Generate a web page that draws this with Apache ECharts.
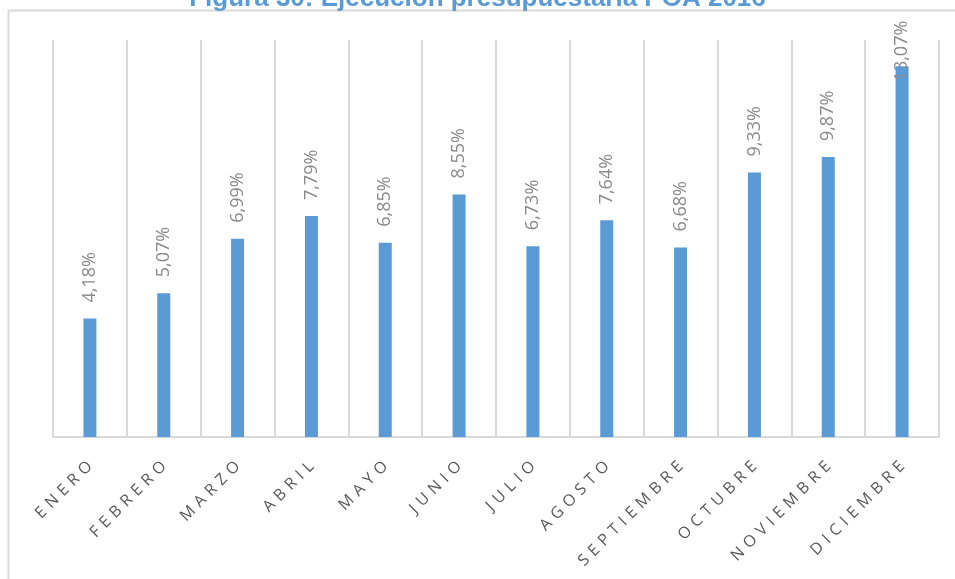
<!DOCTYPE html>
<html>
<head>
<meta charset="utf-8">
<script src="https://cdn.jsdelivr.net/npm/echarts@6/dist/echarts.min.js"></script>
<style>
  html, body { margin: 0; padding: 0; background: #fff; }
  #chart { width: 955px; height: 579px; }
</style>
</head>
<body>
<div id="chart"></div>
<script>
// meses y % de ejecucion
const meses = ['ENERO', 'FEBRERO', 'MARZO', 'ABRIL', 'MAYO', 'JUNIO', 'JULIO', 'AGOSTO', 'SEPTIEMBRE', 'OCTUBRE', 'NOVIEMBRE', 'DICIEMBRE']
const ejecucion = [4.18, 5.07, 6.99, 7.79, 6.85, 8.55, 6.73, 7.64, 6.68, 9.33, 9.87, 13.07]
const titulo = 'Figura 30: Ejecución presupuestaria POA 2016'

const myChart = echarts.init(document.getElementById('chart'))

const option = {
  animation: false,
  title: {
    text: titulo,
    left: 'center',
    top: -19,
    textStyle: {
      color: '#5B9BD5',
      fontFamily: 'Liberation Sans, Arial',
      fontWeight: 'bold',
      fontSize: 26
    }
  },
  graphic: [{
    type: 'rect',
    shape: { x: 8.5, y: 10.5, width: 960, height: 600 },
    style: { fill: 'none', stroke: '#d9d9d9', lineWidth: 2 },
    z: -1
  }],
  grid: {
    left: 53,
    right: 16,
    top: 40,
    bottom: 142
  },
  xAxis: {
    type: 'category',
    data: meses,
    axisLine: { show: true, lineStyle: { color: '#d9d9d9', width: 2 } },
    axisTick: { show: false },
    splitLine: { show: true, lineStyle: { color: '#d9d9d9', width: 2 } },
    axisLabel: {
      interval: 0,
      rotate: 45,
      margin: 27,
      color: '#595959',
      fontFamily: 'Open Sans',
      fontSize: 16,
      formatter: function(v) {
        return v.split('').join('\u2004') // espaciado tipo Excel
      }
    }
  },
  yAxis: {
    type: 'value',
    min: 0,
    max: 14,
    show: false,
    splitLine: { show: false }
  },
  series: [{
    type: 'bar',
    barWidth: 13,
    itemStyle: { color: '#5B9BD5' },
    data: ejecucion.map(function(v, i) {
      if (i === ejecucion.length - 1) {
        return { value: v, label: { distance: -15 } }
      }
      return v
    }),
    label: {
      show: true,
      position: 'top',
      rotate: 90,
      align: 'left',
      verticalAlign: 'middle',
      distance: 16,
      color: '#8a8a8a',
      fontFamily: 'Open Sans',
      fontSize: 18,
      formatter: function(p) {
        return p.value.toFixed(2).replace('.', ',') + '%'
      }
    }
  }]
}

myChart.setOption(option)
</script>
</body>
</html>
